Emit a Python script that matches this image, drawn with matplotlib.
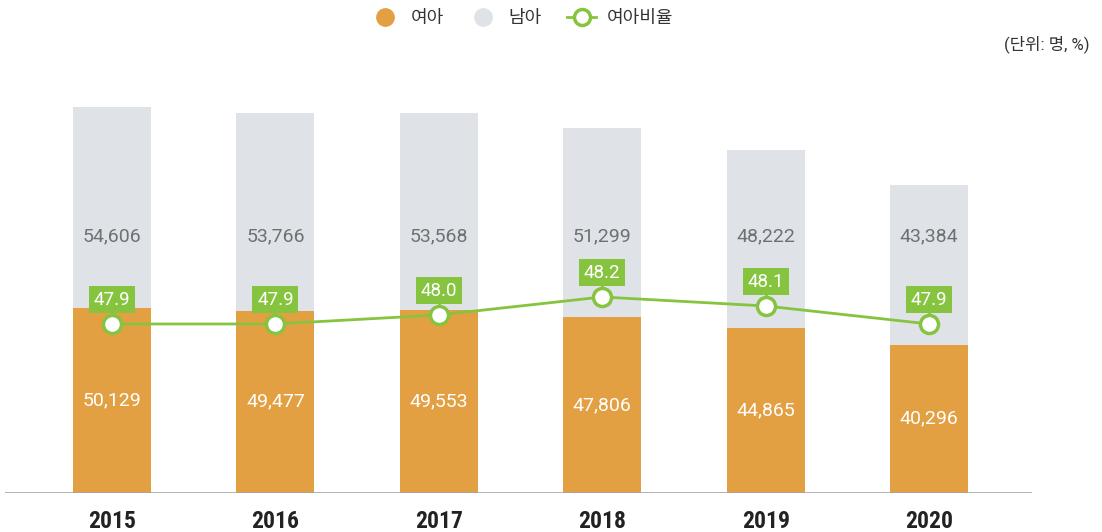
import numpy as np
import matplotlib.pyplot as plt
import matplotlib.transforms as mtransforms
from matplotlib import font_manager
from matplotlib.lines import Line2D

plt.rcParams['font.family'] = ['Roboto', 'Noto Sans CJK KR', 'DejaVu Sans']

# narrow face for the year labels, if one is installed
installed = {f.name for f in font_manager.fontManager.ttflist}
narrow = next((n for n in ['Liberation Sans Narrow', 'Roboto Condensed',
                           'DejaVu Sans Condensed'] if n in installed), 'Roboto')

years = ['2015', '2016', '2017', '2018', '2019', '2020']
girls = [50129, 49477, 49553, 47806, 44865, 40296]
boys = [54606, 53766, 53568, 51299, 48222, 43384]
girl_ratio = [47.9, 47.9, 48.0, 48.2, 48.1, 47.9]

ORANGE = '#e3a042'
GRAY = '#dfe3e8'
GREEN = '#86c440'

fig = plt.figure(figsize=(11.02, 5.32), dpi=100)
ax = fig.add_axes([5/1102, 1 - 493/532, 1027/1102, 433/532])
x = np.arange(len(years))

ax.bar(x, girls, width=0.477, color=ORANGE, zorder=2)
ax.bar(x, boys, width=0.477, bottom=girls, color=GRAY, zorder=2)
ax.set_xlim(-0.655, 5.63)
ax.set_ylim(0, 117500)
ax.axhline(0, color='#a6a6a6', lw=1.2, zorder=3)

for i in x:
    ax.text(i, girls[i] / 2, f'{girls[i]:,}', ha='center', va='center',
            color='white', fontsize=14, zorder=4)
    ax.text(i, 0.593, f'{boys[i]:,}', transform=ax.get_xaxis_transform(),
            ha='center', va='center', color='#6f7073', fontsize=14, zorder=4)

for s in ax.spines.values():
    s.set_visible(False)
ax.set_yticks([])
ax.set_xticks(x)
ax.set_xticklabels(years, fontsize=17, fontweight='bold', color='#222222',
                   family=[narrow, 'DejaVu Sans'], fontstretch='condensed')
ax.tick_params(axis='x', length=0, pad=12)

ax2 = ax.twinx()
ax2.set_ylim(46.022, 50.833)
ax2.axis('off')
ax2.plot(x, girl_ratio, color=GREEN, lw=2, marker='o', markersize=13,
         markerfacecolor='white', markeredgecolor=GREEN, markeredgewidth=2.5,
         zorder=5)
for i in x:
    tri = mtransforms.offset_copy(ax2.transData, fig=fig, x=0, y=9.5, units='points')
    ax2.plot(i, girl_ratio[i], marker='v', color=GREEN, markersize=5,
             transform=tri, zorder=6)
    ax2.annotate(f'{girl_ratio[i]:.1f}', (i, girl_ratio[i]), xytext=(0, 17.5),
                 textcoords='offset points', ha='center', va='center',
                 color='white', fontsize=13.5,
                 bbox=dict(boxstyle='square,pad=0.25', fc=GREEN, ec='none'),
                 zorder=7)

handles = [
    Line2D([], [], ls='none', marker='o', markersize=12.5, color=ORANGE),
    Line2D([], [], ls='none', marker='o', markersize=12.5, color=GRAY),
    Line2D([], [], color=GREEN, lw=2, marker='o', markersize=11.5,
           markerfacecolor='white', markeredgecolor=GREEN, markeredgewidth=2.5),
]
fig.legend(handles, ['여아', '남아', '여아비율'], loc='center',
           bbox_to_anchor=(522/1102, 1 - 18/532), ncol=3, frameon=False,
           fontsize=13, handlelength=1.6, handletextpad=0.6, columnspacing=1.4,
           labelcolor='#333333')
fig.text(1 - 12/1102, 1 - 44/532, '(단위: 명, %)', ha='right', va='center',
         fontsize=12, color='#333333')

fig.savefig('out.png', dpi=100)
